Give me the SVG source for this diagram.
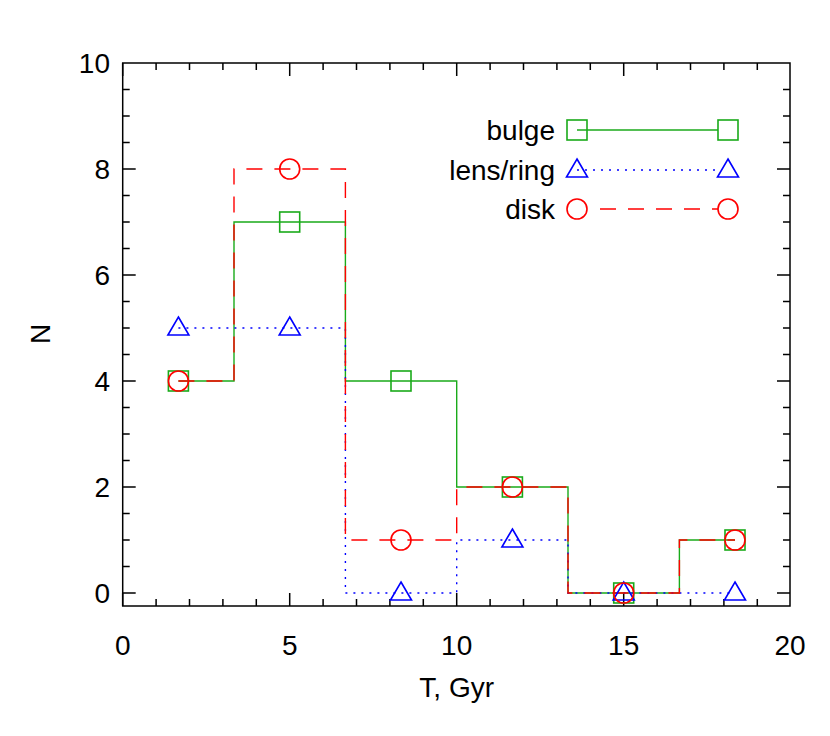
<svg xmlns="http://www.w3.org/2000/svg" width="830" height="736" viewBox="0 0 830 736">
<style>
text{font-family:"Liberation Sans",Arial,sans-serif;fill:#000;font-size:28px}
.ax{stroke:#000;stroke-width:1.5;fill:none}
.g{stroke:#1aaa1a;stroke-width:1.4;fill:none}
.b{stroke:#0000ff;stroke-width:1.4;fill:none;stroke-dasharray:2 6}
.r{stroke:#ff0000;stroke-width:1.4;fill:none;stroke-dasharray:16 12}
.gm{stroke:#1aaa1a;stroke-width:1.6;fill:none}
.bm{stroke:#0000ff;stroke-width:1.6;fill:none}
.rm{stroke:#ff0000;stroke-width:1.6;fill:none}
</style>
<defs>
<rect id="sq" x="-10" y="-10" width="20" height="20"/>
<path id="tri" d="M0,-11 L10.5,7 L-10.5,7 Z"/>
<circle id="ci" r="10"/>
</defs>
<rect width="830" height="736" fill="#fff"/>
<g id="axes" class="ax">
<rect x="122.7" y="63" width="667.3" height="543"/>
<path d="M122.7,606v-13M289.7,606v-13M456.7,606v-13M623.7,606v-13M122.7,63v13M289.7,63v13M456.7,63v13M623.7,63v13
M156.1,606v-7M189.5,606v-7M222.9,606v-7M256.3,606v-7M323.1,606v-7M356.5,606v-7M389.9,606v-7M423.3,606v-7M490.1,606v-7M523.5,606v-7M556.9,606v-7M590.3,606v-7M657.1,606v-7M690.5,606v-7M723.9,606v-7M757.3,606v-7
M156.1,63v7M189.5,63v7M222.9,63v7M256.3,63v7M323.1,63v7M356.5,63v7M389.9,63v7M423.3,63v7M490.1,63v7M523.5,63v7M556.9,63v7M590.3,63v7M657.1,63v7M690.5,63v7M723.9,63v7M757.3,63v7
M122.7,593h13M122.7,487h13M122.7,381h13M122.7,275h13M122.7,169h13M790,593h-13M790,487h-13M790,381h-13M790,275h-13M790,169h-13
M122.7,566.5h7M122.7,540h7M122.7,513.5h7M122.7,460.5h7M122.7,434h7M122.7,407.5h7M122.7,354.5h7M122.7,328h7M122.7,301.5h7M122.7,248.5h7M122.7,222h7M122.7,195.5h7M122.7,142.5h7M122.7,116h7M122.7,89.5h7
M790,566.5h-7M790,540h-7M790,513.5h-7M790,460.5h-7M790,434h-7M790,407.5h-7M790,354.5h-7M790,328h-7M790,301.5h-7M790,248.5h-7M790,222h-7M790,195.5h-7M790,142.5h-7M790,116h-7M790,89.5h-7"/>
</g>
<g id="labels">
<text x="122.7" y="655" text-anchor="middle">0</text>
<text x="289.7" y="655" text-anchor="middle">5</text>
<text x="456.7" y="655" text-anchor="middle">10</text>
<text x="623.7" y="655" text-anchor="middle">15</text>
<text x="790" y="655" text-anchor="middle">20</text>
<text x="110" y="603" text-anchor="end">0</text>
<text x="110" y="497" text-anchor="end">2</text>
<text x="110" y="391" text-anchor="end">4</text>
<text x="110" y="285" text-anchor="end">6</text>
<text x="110" y="179" text-anchor="end">8</text>
<text x="110" y="73" text-anchor="end">10</text>
<text x="456.7" y="697" text-anchor="middle">T, Gyr</text>
<text transform="translate(50,334) rotate(-90)" text-anchor="middle">N</text>
</g>
<g id="connectors">
<path class="g" d="M178.4,381H234V222H345.4V381H456.7V487H568V593H679.4V540H735"/>
<path class="b" d="M178.4,328H345.4V593H456.7V540H568V593H735"/>
<path class="r" d="M178.4,381H234V169H345.4V540H456.7V487H568V593H679.4V540H735"/>
<path class="g" d="M577,130H718"/>
<path class="b" d="M577,170H718"/>
<path class="r" d="M600,209H718"/>
</g>
<g id="bulge" class="gm">
<use href="#sq" x="178.4" y="381"/><use href="#sq" x="289.7" y="222"/><use href="#sq" x="401" y="381"/><use href="#sq" x="512.4" y="487"/><use href="#sq" x="623.7" y="593"/><use href="#sq" x="735" y="540"/>
<use href="#sq" x="577" y="130"/><use href="#sq" x="728" y="130"/>
</g>
<g id="lens" class="bm">
<use href="#tri" x="178.4" y="328"/><use href="#tri" x="289.7" y="328"/><use href="#tri" x="401" y="593"/><use href="#tri" x="512.4" y="540"/><use href="#tri" x="623.7" y="593"/><use href="#tri" x="735" y="593"/>
<use href="#tri" x="577" y="170"/><use href="#tri" x="728" y="170"/>
</g>
<g id="disk" class="rm">
<use href="#ci" x="178.4" y="381"/><use href="#ci" x="289.7" y="169"/><use href="#ci" x="401" y="540"/><use href="#ci" x="512.4" y="487"/><use href="#ci" x="623.7" y="593"/><use href="#ci" x="735" y="540"/>
<use href="#ci" x="577" y="209"/><use href="#ci" x="728" y="209"/>
</g>
<g id="legend">
<text x="555" y="140" text-anchor="end">bulge</text>
<text x="555" y="180" text-anchor="end">lens/ring</text>
<text x="555" y="219" text-anchor="end">disk</text>
</g>
</svg>
